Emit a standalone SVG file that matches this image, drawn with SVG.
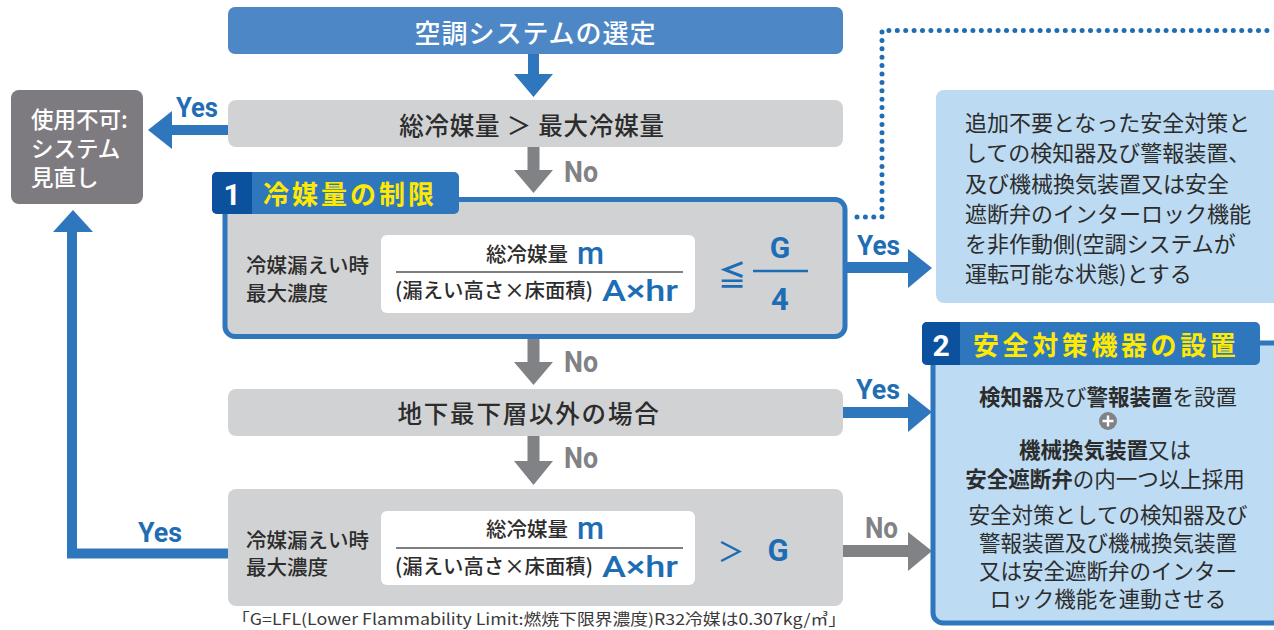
<svg xmlns="http://www.w3.org/2000/svg" width="1274" height="630" viewBox="0 0 1274 630">
<style>
.jp{font-family:"Noto Sans CJK JP","Noto Sans",sans-serif;}
.lat{font-family:Roboto,"Liberation Sans",sans-serif;font-weight:700;}
.mid{font-family:Roboto,"Liberation Sans",sans-serif;font-weight:500;}
.gbox{fill:#d1d2d4;}
.blue{fill:#2f77bd;}
.gray{fill:#818285;}
.yes{fill:#1f6db5;font-size:28px;}
.no{fill:#818285;font-size:29px;}
.dark{fill:#2c2c2c;}
.bt{fill:#1d6db5;}
</style>
<rect width="1274" height="630" fill="#ffffff"/>

<!-- connectors -->
<g id="connectors">
  <rect x="528" y="54" width="11" height="21" class="blue"/>
  <polygon points="514,74 553,74 533.5,97" class="blue"/>
  <rect x="527.5" y="147" width="12" height="24" class="gray"/>
  <polygon points="514,170 553,170 533.5,193" class="gray"/>
  <text x="564" y="182" class="lat no" textLength="34" lengthAdjust="spacingAndGlyphs">No</text>
  <rect x="527.5" y="339" width="12" height="24" class="gray"/>
  <polygon points="514,362 553,362 533.5,385" class="gray"/>
  <text x="564" y="372" class="lat no" textLength="34" lengthAdjust="spacingAndGlyphs">No</text>
  <rect x="527.5" y="436" width="12" height="25" class="gray"/>
  <polygon points="514,461 553,461 533.5,485" class="gray"/>
  <text x="564" y="468" class="lat no" textLength="34" lengthAdjust="spacingAndGlyphs">No</text>
  <rect x="170" y="125" width="58" height="10" class="blue"/>
  <polygon points="172,111 172,149 148,130" class="blue"/>
  <text x="176" y="117" class="lat yes" textLength="42" lengthAdjust="spacingAndGlyphs">Yes</text>
  <rect x="846" y="262" width="64" height="11" class="blue"/>
  <polygon points="908,249 908,288 932,268" class="blue"/>
  <text x="857" y="255" class="lat yes" textLength="43" lengthAdjust="spacingAndGlyphs">Yes</text>
  <rect x="843" y="407" width="67" height="11" class="blue"/>
  <polygon points="908,393 908,432 932,412" class="blue"/>
  <text x="856" y="399" class="lat yes" textLength="44" lengthAdjust="spacingAndGlyphs">Yes</text>
  <rect x="843" y="545" width="67" height="12" class="gray"/>
  <polygon points="908,532 908,571 932,551" class="gray"/>
  <text x="865" y="538" class="lat no" textLength="33" lengthAdjust="spacingAndGlyphs">No</text>
  <path d="M228,553.5 H72 V228" fill="none" stroke="#2f77bd" stroke-width="10"/>
  <polygon points="53,232 93,232 73,210" class="blue"/>
  <text x="138" y="542" class="lat yes" textLength="44" lengthAdjust="spacingAndGlyphs">Yes</text>
  <path d="M857,217 H882 V30.5 H1274" fill="none" stroke="#1f6db5" stroke-width="5" stroke-linecap="round" stroke-dasharray="0 8.4"/>
</g>

<g id="node-start">
  <rect x="228" y="7" width="615" height="47" rx="7" fill="#4d87c6"/>
  <text x="535.5" y="31" class="jp" font-size="26" font-weight="500" fill="#ffffff" text-anchor="middle" dominant-baseline="central" letter-spacing="1">空調システムの選定</text>
</g>

<g id="node-total">
  <rect x="228" y="100" width="615" height="47" rx="8" class="gbox"/>
  <text x="532" y="124" class="jp dark" font-size="24.5" font-weight="500" text-anchor="middle" dominant-baseline="central" letter-spacing="0.8">総冷媒量 ＞ 最大冷媒量</text>
</g>

<g id="node-ng">
  <rect x="11" y="90" width="132" height="114" rx="8" fill="#7e7b80"/>
  <text class="jp" font-size="22.5" font-weight="500" fill="#ffffff">
    <tspan x="31" y="128">使用不可:</tspan>
    <tspan x="31" y="157">システム</tspan>
    <tspan x="31" y="186">見直し</tspan>
  </text>
</g>

<g id="node-sec1">
  <rect x="225" y="199.5" width="620" height="137" rx="10" fill="#d1d2d4" stroke="#2f77bd" stroke-width="5"/>
  <rect x="212" y="172" width="247" height="42" rx="5" fill="#2f77bd"/>
  <path d="M217,172 H252 V214 H217 A5,5 0 0 1 212,209 V177 A5,5 0 0 1 217,172 Z" fill="#0b519d"/>
  <text x="232" y="194" class="lat" font-size="30" fill="#ffffff" text-anchor="middle" dominant-baseline="central">1</text>
  <text x="263" y="192" class="jp" font-size="26" font-weight="700" fill="#ffe900" dominant-baseline="central" letter-spacing="3">冷媒量の制限</text>
  <text class="jp dark" font-size="20.5" font-weight="500">
    <tspan x="246" y="273">冷媒漏えい時</tspan>
    <tspan x="246" y="301">最大濃度</tspan>
  </text>
  <rect x="381" y="235" width="314" height="78" rx="6" fill="#ffffff"/>
  <text x="486" y="262" class="jp dark" font-size="20.5" font-weight="500">総冷媒量</text>
  <text x="577" y="264" class="mid bt" font-size="31">m</text>
  <line x1="396" y1="272" x2="683" y2="272" stroke="#555555" stroke-width="1.3"/>
  <text x="395" y="298" class="jp dark" font-size="20.5" font-weight="500" textLength="198" lengthAdjust="spacingAndGlyphs">(漏えい高さ×床面積)</text>
  <text x="602" y="301" class="mid bt" font-size="30" textLength="76" lengthAdjust="spacingAndGlyphs">A×hr</text>
  <text x="732" y="274" class="jp bt" font-size="28" font-weight="700" text-anchor="middle" dominant-baseline="central">≦</text>
  <text x="780" y="258" class="lat bt" font-size="30" text-anchor="middle">G</text>
  <line x1="753" y1="271" x2="808" y2="271" stroke="#1d6db5" stroke-width="2.5"/>
  <text x="780" y="310" class="lat bt" font-size="31" text-anchor="middle">4</text>
</g>

<g id="node-basement">
  <rect x="228" y="389" width="615" height="47" rx="8" class="gbox"/>
  <text x="529" y="412" class="jp dark" font-size="24.5" font-weight="500" text-anchor="middle" dominant-baseline="central" letter-spacing="1.8">地下最下層以外の場合</text>
</g>

<g id="node-check">
  <rect x="228" y="489" width="615" height="117" rx="8" class="gbox"/>
  <text class="jp dark" font-size="20.5" font-weight="500">
    <tspan x="246" y="548">冷媒漏えい時</tspan>
    <tspan x="246" y="575">最大濃度</tspan>
  </text>
  <rect x="381" y="511" width="314" height="74" rx="6" fill="#ffffff"/>
  <text x="486" y="537" class="jp dark" font-size="20.5" font-weight="500">総冷媒量</text>
  <text x="577" y="539" class="mid bt" font-size="31">m</text>
  <line x1="396" y1="548" x2="683" y2="548" stroke="#555555" stroke-width="1.3"/>
  <text x="395" y="574" class="jp dark" font-size="20.5" font-weight="500" textLength="198" lengthAdjust="spacingAndGlyphs">(漏えい高さ×床面積)</text>
  <text x="602" y="577" class="mid bt" font-size="30" textLength="76" lengthAdjust="spacingAndGlyphs">A×hr</text>
  <text x="731" y="550" class="jp bt" font-size="27" font-weight="500" text-anchor="middle" dominant-baseline="central">＞</text>
  <text x="778" y="561" class="lat bt" font-size="31" text-anchor="middle">G</text>
  <text x="232" y="625" class="jp" font-size="15.5" fill="#3a3a3a" textLength="614" lengthAdjust="spacingAndGlyphs">「G=LFL(Lower Flammability Limit:燃焼下限界濃度)R32冷媒は0.307kg/㎥」</text>
</g>

<g id="node-note">
  <rect x="936" y="90" width="360" height="213" rx="8" fill="#bcdbf2"/>
  <text class="jp dark" font-size="22" dominant-baseline="central">
    <tspan x="965" y="121">追加不要となった安全対策と</tspan>
    <tspan x="965" y="151">しての検知器及び警報装置、</tspan>
    <tspan x="965" y="182">及び機械換気装置又は安全</tspan>
    <tspan x="965" y="212">遮断弁のインターロック機能</tspan>
    <tspan x="965" y="242">を非作動側(空調システムが</tspan>
    <tspan x="965" y="272">運転可能な状態)とする</tspan>
  </text>
</g>

<g id="node-sec2">
  <rect x="933" y="343" width="360" height="280" rx="10" fill="#bddbf2" stroke="#2f77bd" stroke-width="5"/>
  <rect x="922" y="322" width="338" height="43" rx="5" fill="#2f77bd"/>
  <path d="M927,322 H960 V365 H927 A5,5 0 0 1 922,360 V327 A5,5 0 0 1 927,322 Z" fill="#0b519d"/>
  <text x="941" y="345" class="lat" font-size="30" fill="#ffffff" text-anchor="middle" dominant-baseline="central">2</text>
  <text x="973" y="343" class="jp" font-size="26" font-weight="700" fill="#ffe900" dominant-baseline="central" letter-spacing="3.6">安全対策機器の設置</text>
  <g class="jp dark" font-size="21.5" text-anchor="middle" dominant-baseline="central">
    <text x="1108" y="395"><tspan font-weight="700">検知器</tspan>及び<tspan font-weight="700">警報装置</tspan>を設置</text>
    <text x="1105" y="448"><tspan font-weight="700">機械換気装置</tspan>又は</text>
    <text x="1105" y="477"><tspan font-weight="700">安全遮断弁</tspan>の内一つ以上採用</text>
    <text x="1108" y="513">安全対策としての検知器及び</text>
    <text x="1108" y="541">警報装置及び機械換気装置</text>
    <text x="1108" y="569">又は安全遮断弁のインター</text>
    <text x="1108" y="597">ロック機能を連動させる</text>
  </g>
  <circle cx="1108" cy="421" r="9" fill="#808285"/>
  <path d="M1102.5,421 H1113.5 M1108,415.5 V426.5" stroke="#ffffff" stroke-width="2.4"/>
</g>
</svg>
